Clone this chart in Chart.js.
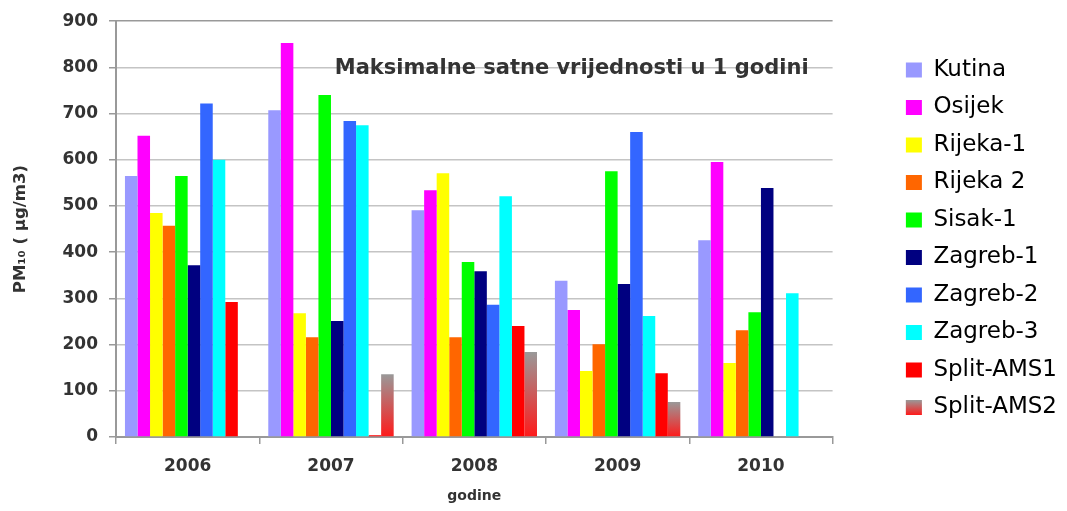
<!DOCTYPE html>
<html lang="hr">
<head>
    <meta charset="UTF-8">
    <title>PM10 - maksimalne satne vrijednosti</title>
    <script src="https://cdn.jsdelivr.net/npm/chart.js"></script>
    <style>
        body { margin: 0; background: #fff; }
    </style>
</head>
<body>
    <canvas id="pmChart" width="1067" height="511"></canvas>
    <script>
        const years = ['2006', '2007', '2008', '2009', '2010'];

        // maksimalne satne vrijednosti PM10 (µg/m3) po postaji
        const kutina    = [565, 707, 491, 338, 426];
        const osijek    = [652, 853, 534, 275, 595];
        const rijeka1   = [485, 268, 571, 143, 160];
        const rijeka2   = [457, 216, 216, 201, 231];
        const sisak1    = [565, 740, 379, 575, 270];
        const zagreb1   = [372, 251, 359, 331, 539];
        const zagreb2   = [722, 684, 286, 660, null];
        const zagreb3   = [600, 675, 521, 262, 311];
        const splitAms1 = [292, 4, 240, 138, null];
        const splitAms2 = [null, 136, 184, 76, null];

        const stations = ['Kutina', 'Osijek', 'Rijeka-1', 'Rijeka 2', 'Sisak-1',
                          'Zagreb-1', 'Zagreb-2', 'Zagreb-3', 'Split-AMS1', 'Split-AMS2'];
        const series = [kutina, osijek, rijeka1, rijeka2, sisak1,
                        zagreb1, zagreb2, zagreb3, splitAms1, splitAms2];

        const chartTitle = 'Maksimalne satne vrijednosti u 1 godini';

        // Split-AMS2 je u originalu crtan s gradijentom sivo -> crveno
        function splitGradient(c) {
            const chart = c.chart;
            const y = chart.scales.y;
            if (c.type !== 'data' || !y || c.raw == null) return '#999999';
            const top = y.getPixelForValue(c.raw);
            const bottom = y.getPixelForValue(0);
            if (!isFinite(top) || !isFinite(bottom) || top === bottom) return '#ff2020';
            const g = chart.ctx.createLinearGradient(0, top, 0, bottom);
            g.addColorStop(0, '#999999');
            g.addColorStop(1, '#ff1a1a');
            return g;
        }

        const colors = ['#9999ff', '#ff00ff', '#ffff00', '#ff6600', '#00ff00',
                        '#000080', '#3366ff', '#00ffff', '#ff0000', splitGradient];

        const innerTitle = {
            id: 'innerTitle',
            afterDraw(chart) {
                const { ctx, chartArea } = chart;
                ctx.save();
                ctx.font = "bold 21px 'DejaVu Sans'";
                ctx.fillStyle = '#333';
                ctx.textAlign = 'right';
                ctx.textBaseline = 'alphabetic';
                ctx.fillText(chartTitle, chartArea.right - 24, chartArea.top + 53);
                ctx.restore();
            }
        };

        // gradijent i za kvadratic u legendi
        const legendGradient = {
            id: 'legendGradient',
            afterDraw(chart) {
                const legend = chart.legend;
                const box = legend && legend.legendHitBoxes[stations.length - 1];
                if (!box) return;
                const lab = legend.options.labels;
                const top = box.top + Math.max((lab.font.size - lab.boxHeight) / 2, 0);
                const ctx = chart.ctx;
                const g = ctx.createLinearGradient(0, top, 0, top + lab.boxHeight);
                g.addColorStop(0, '#999999');
                g.addColorStop(1, '#ff1a1a');
                ctx.save();
                ctx.fillStyle = '#fff';
                ctx.fillRect(box.left, top, lab.boxWidth, lab.boxHeight);
                ctx.fillStyle = g;
                ctx.fillRect(box.left, top, lab.boxWidth, lab.boxHeight);
                ctx.restore();
            }
        };

        Chart.defaults.font.family = "'DejaVu Sans', sans-serif";
        Chart.defaults.color = '#333';

        const ctx = document.getElementById('pmChart').getContext('2d');
        const myChart = new Chart(ctx, {
            type: 'bar',
            data: {
                labels: years,
                datasets: stations.map((name, i) => ({
                    label: name,
                    data: series[i],
                    backgroundColor: colors[i],
                    borderWidth: 0
                }))
            },
            options: {
                responsive: false,
                animation: false,
                layout: { padding: { top: 21, left: 0, right: 0, bottom: 0 } },
                datasets: { bar: { categoryPercentage: 0.875, barPercentage: 1 } },
                plugins: {
                    legend: {
                        position: 'right',
                        align: 'start',
                        title: { display: true, text: '', padding: 0, font: { size: 12, lineHeight: '23px' } },
                        labels: {
                            boxWidth: 16,
                            boxHeight: 15,
                            padding: 14.5,
                            color: '#000',
                            font: { size: 23 }
                        }
                    },
                    tooltip: { enabled: false }
                },
                scales: {
                    x: {
                        grid: { offset: true, drawOnChartArea: false, color: '#999', lineWidth: 1.5, tickLength: 7 },
                        border: { color: '#999', width: 2 },
                        ticks: { padding: 12, color: '#333', font: { size: 17, weight: 'bold' } },
                        title: {
                            display: true, text: 'godine', color: '#333',
                            font: { size: 14, weight: 'bold' }, padding: { top: 0, bottom: 6 }
                        },
                        afterFit: s => { s.height = 74; }
                    },
                    y: {
                        min: 0,
                        max: 900,
                        ticks: { stepSize: 100, padding: 11, color: '#333', font: { size: 17, weight: 'bold' } },
                        grid: {
                            color: c => (c.tick && c.tick.value === 900) ? '#999' : '#c4c4c4',
                            tickColor: '#999',
                            lineWidth: 1.5,
                            tickLength: 7
                        },
                        border: { color: '#999', width: 2 },
                        title: {
                            display: true, text: 'PM₁₀ ( µg/m3)', color: '#333',
                            font: { size: 16.5, weight: 'bold' }, padding: { top: 11, bottom: 0 }
                        },
                        afterFit: s => { s.width = 116; }
                    },
                    yRight: {
                        position: 'right',
                        grid: { display: false },
                        border: { display: false },
                        ticks: { display: false },
                        afterFit: s => { s.width = 58.8; }
                    }
                }
            },
            plugins: [innerTitle, legendGradient]
        });
    </script>
</body>
</html>
